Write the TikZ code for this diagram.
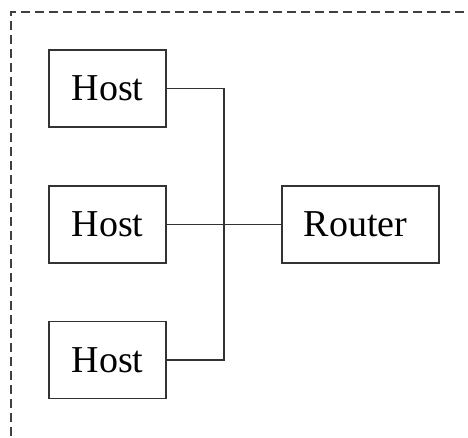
\documentclass[tikz,border=0pt]{standalone}
\usepackage{fontspec}
\setmainfont{Liberation Serif}
\begin{document}
\begin{tikzpicture}[x=1pt,y=-1pt,
  box/.style={draw=black!80,line width=1.3pt,minimum width=117pt,minimum height=77pt,inner sep=0pt,font=\fontsize{38}{40}\selectfont},
  wire/.style={draw=black!80,line width=1.3pt}]
\useasboundingbox (0,0) rectangle (468,437);
\begin{scope}
\clip (0,0) rectangle (468,437);
\draw[draw=black!75,line width=1.2pt,dash pattern=on 9pt off 5pt] (11,450) -- (11,12) -- (480,12);
\end{scope}
\node[box] (h1) at (107.5,88.5) {Host};
\node[box] (h2) at (107.5,224.5) {Host};
\node[box] (h3) at (107.5,360) {Host};
\node[box,minimum width=157pt,align=left] (r) at (360.5,224.5) {Router\hspace{10pt}};
\coordinate (bt) at (224,88.5);
\coordinate (bb) at (224,360);
\draw[wire] (h1.east) -- (bt) -- (bb) -- (h3.east);
\draw[wire] (h2.east) -- (r.west);
\end{tikzpicture}
\end{document}
